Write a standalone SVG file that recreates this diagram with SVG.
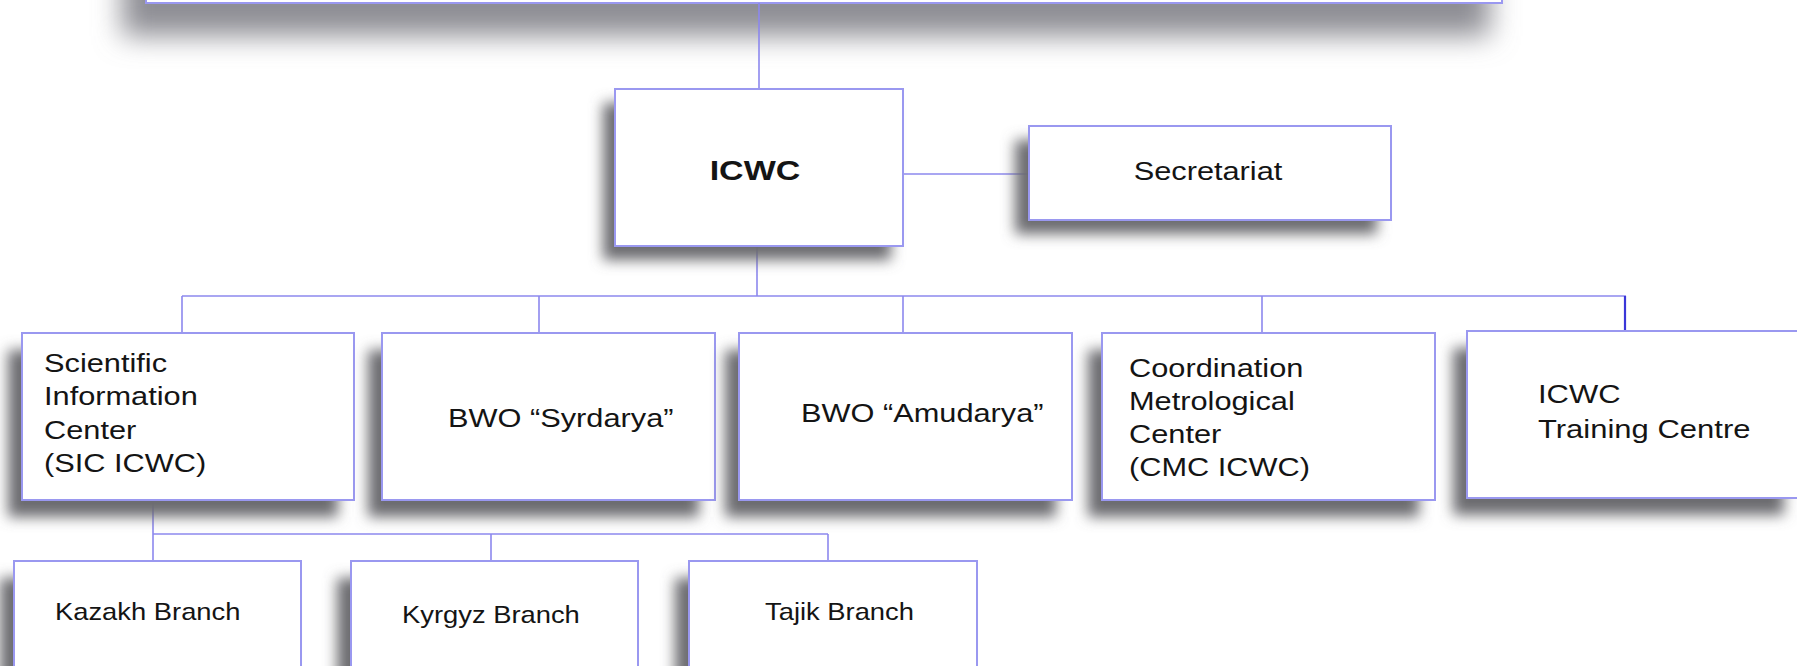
<svg xmlns="http://www.w3.org/2000/svg" width="1797" height="666" viewBox="0 0 1797 666">
<defs>
<filter id="sh" x="-20%" y="-40%" width="140%" height="180%">
<feGaussianBlur stdDeviation="7"/>
</filter>
<filter id="shTop" x="-10%" y="-50%" width="120%" height="200%">
<feGaussianBlur stdDeviation="14"/>
</filter>
</defs>
<style>
.box{fill:#ffffff;stroke:#9a98f0;stroke-width:2}
.shadow{fill:#6c6c70;filter:url(#sh)}
.t{font-family:"Liberation Sans",Arial,sans-serif;font-size:25px;fill:#141414}
.s{font-size:24px}
.b{font-weight:bold;font-size:27px}
.c line{stroke:#8c88ee;stroke-width:1.6}
</style>
<rect width="1797" height="666" fill="#ffffff"/>

<g id="top">
<rect x="122" y="-100" width="1368" height="136" fill="#8e8e94" filter="url(#shTop)"/>
<rect class="box" x="146" y="-100" width="1356" height="103"/>
</g>

<g id="connectors" class="c">
<line x1="759" y1="3" x2="759" y2="89"/>
<line x1="903" y1="174" x2="1029" y2="174"/>
<line x1="757" y1="246" x2="757" y2="296"/>
<line x1="182" y1="296" x2="1626" y2="296"/>
<line x1="182" y1="296" x2="182" y2="333"/>
<line x1="539" y1="296" x2="539" y2="333"/>
<line x1="903" y1="296" x2="903" y2="333"/>
<line x1="1262" y1="296" x2="1262" y2="333"/>
<line x1="1625" y1="296" x2="1625" y2="331" style="stroke:#3a36d8;stroke-width:2.2"/>
<line x1="153" y1="500" x2="153" y2="534"/>
<line x1="153" y1="534" x2="828" y2="534"/>
<line x1="153" y1="534" x2="153" y2="561"/>
<line x1="491" y1="534" x2="491" y2="561"/>
<line x1="828" y1="534" x2="828" y2="561"/>
</g>

<g id="icwc">
<rect class="shadow" x="603" y="103" width="288" height="157"/>
<rect class="box" x="615" y="89" width="288" height="157"/>
<text class="t b" text-anchor="middle" transform="translate(755,180) scale(1.26,1)">ICWC</text>
</g>

<g id="secretariat">
<rect class="shadow" x="1015" y="140" width="362" height="94"/>
<rect class="box" x="1029" y="126" width="362" height="94"/>
<text class="t" text-anchor="middle" transform="translate(1208,180) scale(1.23,1)">Secretariat</text>
</g>

<g id="sic">
<rect class="shadow" x="8" y="350" width="330" height="167"/>
<rect class="box" x="22" y="333" width="332" height="167"/>
<text class="t" transform="translate(44,372) scale(1.23,1)"><tspan x="0" y="0">Scientific</tspan><tspan x="0" y="33.5">Information</tspan><tspan x="0" y="67">Center</tspan><tspan x="0" y="100.5">(SIC ICWC)</tspan></text>
</g>

<g id="syrdarya">
<rect class="shadow" x="368" y="350" width="331" height="167"/>
<rect class="box" x="382" y="333" width="333" height="167"/>
<text class="t" transform="translate(448,427) scale(1.23,1)">BWO “Syrdarya”</text>
</g>

<g id="amudarya">
<rect class="shadow" x="725" y="350" width="331" height="167"/>
<rect class="box" x="739" y="333" width="333" height="167"/>
<text class="t" transform="translate(801,422) scale(1.23,1)">BWO “Amudarya”</text>
</g>

<g id="cmc">
<rect class="shadow" x="1088" y="350" width="331" height="167"/>
<rect class="box" x="1102" y="333" width="333" height="167"/>
<text class="t" transform="translate(1129,377) scale(1.23,1)"><tspan x="0" y="0">Coordination</tspan><tspan x="0" y="33">Metrological</tspan><tspan x="0" y="66">Center</tspan><tspan x="0" y="99">(CMC ICWC)</tspan></text>
</g>

<g id="training">
<rect class="shadow" x="1453" y="348" width="331" height="167"/>
<rect class="box" x="1467" y="331" width="340" height="167"/>
<text class="t" transform="translate(1538,403) scale(1.24,1)"><tspan x="0" y="0">ICWC</tspan><tspan x="0" y="35">Training Centre</tspan></text>
</g>

<g id="kazakh">
<rect class="shadow" x="0" y="578" width="287" height="120"/>
<rect class="box" x="14" y="561" width="287" height="130"/>
<text class="t s" transform="translate(55,620) scale(1.14,1)">Kazakh Branch</text>
</g>

<g id="kyrgyz">
<rect class="shadow" x="337" y="578" width="287" height="120"/>
<rect class="box" x="351" y="561" width="287" height="130"/>
<text class="t s" transform="translate(402,623) scale(1.14,1)">Kyrgyz Branch</text>
</g>

<g id="tajik">
<rect class="shadow" x="675" y="578" width="288" height="120"/>
<rect class="box" x="689" y="561" width="288" height="130"/>
<text class="t s" transform="translate(765,620) scale(1.14,1)">Tajik Branch</text>
</g>
</svg>
